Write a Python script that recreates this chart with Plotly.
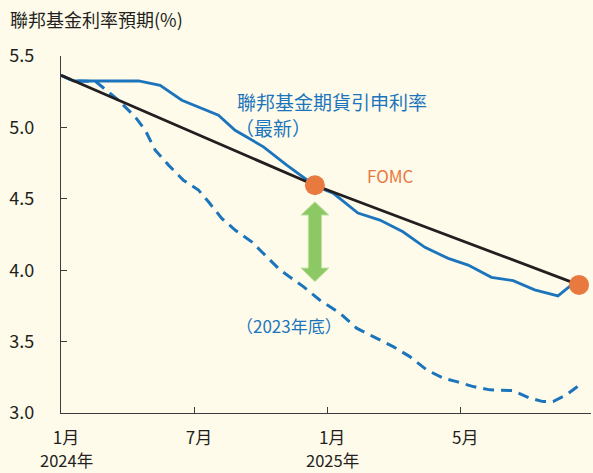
import plotly.graph_objects as go

# Month index: 0 = Jan 2024, 12 = Jan 2025
tick_pos = [0, 6, 12, 18]
tick_text = ["1月", "7月", "1月", "5月"]
year_pos = [0, 12]
year_text = ["2024年", "2025年"]

# Fed funds futures implied rate, latest
latest_x = [0, 0.57, 3.50, 4.47, 5.45, 6.35, 7.10, 7.85, 8.60, 9.13, 10.18, 11.45,
            12.27, 13.39, 14.38, 15.42, 16.41, 17.46, 18.36, 19.41, 20.39, 21.36,
            22.41, 23.02, 23.36]
latest_y = [5.365, 5.325, 5.325, 5.295, 5.19, 5.132, 5.085, 4.98, 4.91, 4.864, 4.736, 4.592,
            4.54, 4.40, 4.351, 4.269, 4.16, 4.083, 4.036, 3.95, 3.927, 3.862,
            3.82, 3.897, 3.897]

# Fed funds futures implied rate, end of 2023
end2023_x = [0, 0.57, 1.55, 1.85, 2.59, 3.35, 3.80, 4.25, 4.85, 5.52, 6.20, 6.65, 7.25,
             7.85, 8.60, 8.98, 9.88, 10.93, 11.68, 12.58, 13.33, 14.08, 14.98, 15.73,
             16.49, 17.23, 17.84, 18.59, 19.34, 20.39, 21.14, 21.74, 22.19, 22.79, 23.39]
end2023_y = [5.365, 5.325, 5.323, 5.283, 5.19, 5.073, 4.98, 4.84, 4.736, 4.63, 4.561, 4.479,
             4.363, 4.281, 4.199, 4.14, 4.001, 3.885, 3.79, 3.699, 3.594, 3.535, 3.465,
             3.395, 3.302, 3.244, 3.22, 3.185, 3.162, 3.157, 3.104, 3.08, 3.08, 3.127, 3.197]

# FOMC projection path
fomc_x = [0, 11.45, 23.36]
fomc_y = [5.365, 4.595, 3.897]

BLUE = "#1c75bc"
ORANGE = "#e8793f"
GREEN = "#8cc864"
DARK = "#231f20"
BG = "#fefbea"
FONT = "Noto Sans CJK TC"

fig = go.Figure()

fig.add_trace(go.Scatter(x=end2023_x, y=end2023_y, mode="lines",
                         line=dict(color=BLUE, width=3, dash="11px,7px"),
                         hoverinfo="skip"))
fig.add_trace(go.Scatter(x=latest_x, y=latest_y, mode="lines",
                         line=dict(color=BLUE, width=2.8), hoverinfo="skip"))
fig.add_trace(go.Scatter(x=fomc_x, y=fomc_y, mode="lines",
                         line=dict(color=DARK, width=2.8), hoverinfo="skip"))
fig.add_trace(go.Scatter(x=fomc_x[1:], y=fomc_y[1:], mode="markers",
                         marker=dict(color=ORANGE, size=20), hoverinfo="skip"))

# double-headed arrow between the two curves at the December FOMC
cx = fomc_x[1]
top, hb1, hb2, bot = 4.479, 4.386, 4.015, 3.920
hw, sw = 0.63, 0.30
path = (f"M {cx},{top} L {cx+hw},{hb1} L {cx+sw},{hb1} L {cx+sw},{hb2} "
        f"L {cx+hw},{hb2} L {cx},{bot} L {cx-hw},{hb2} L {cx-sw},{hb2} "
        f"L {cx-sw},{hb1} L {cx-hw},{hb1} Z")
fig.add_shape(type="path", path=path, xref="x", yref="y",
              fillcolor=GREEN, line=dict(color="#c3e3a6", width=1))

annotations = [
    dict(text="聯邦基金利率預期(%)", xref="paper", yref="paper",
         x=-0.1, y=1.105, xanchor="left", yanchor="middle",
         font=dict(size=18, color=DARK)),
    dict(text="聯邦基金期貨引申利率", xref="x", yref="y",
         x=7.85, y=5.18, xanchor="left", yanchor="middle",
         font=dict(size=19, color=BLUE)),
    dict(text="（最新）", xref="x", yref="y",
         x=7.75, y=4.998, xanchor="left", yanchor="middle",
         font=dict(size=19, color=BLUE)),
    dict(text="FOMC", xref="x", yref="y",
         x=13.7, y=4.66, xanchor="left", yanchor="middle",
         font=dict(size=17, color=ORANGE)),
    dict(text="（2023年底）", xref="x", yref="y",
         x=7.8, y=3.61, xanchor="left", yanchor="middle",
         font=dict(size=17, color=BLUE)),
]
# year line under the January tick labels
for xp, yt in zip(year_pos, year_text):
    annotations.append(dict(text=yt, xref="x", yref="paper", x=xp, y=-0.1317,
                            xanchor="center", yanchor="middle", xshift=5,
                            font=dict(size=16.5, color=DARK)))
for a in annotations:
    a["showarrow"] = False
fig.update_layout(annotations=annotations)

fig.update_layout(
    width=593, height=473,
    margin=dict(l=61, r=2, t=56, b=60),
    paper_bgcolor=BG, plot_bgcolor=BG,
    showlegend=False,
    font=dict(family=FONT, color=DARK),
    xaxis=dict(range=[0, 23.9], tickvals=tick_pos + [23.9], ticktext=tick_text + [""],
               ticks="inside", ticklen=6, tickcolor="#3d3d3d", tickwidth=1.2,
               showline=True, linecolor="#3d3d3d", linewidth=1.3,
               showgrid=False, zeroline=False, ticklabelshift=5, ticklabelstandoff=9,
               tickfont=dict(size=17, color=DARK, family=FONT)),
    yaxis=dict(range=[3.0, 5.5], tickvals=[3.0, 3.5, 4.0, 4.5, 5.0, 5.5],
               ticktext=["3.0", "3.5", "4.0", "4.5", "5.0", "5.5"],
               ticks="inside", ticklen=6, tickcolor="#3d3d3d", tickwidth=1.2,
               showline=True, linecolor="#3d3d3d", linewidth=1.3,
               showgrid=False, zeroline=False, ticklabelstandoff=22,
               tickfont=dict(size=18, color=DARK, family=FONT)),
)

fig.write_html("out.html")
